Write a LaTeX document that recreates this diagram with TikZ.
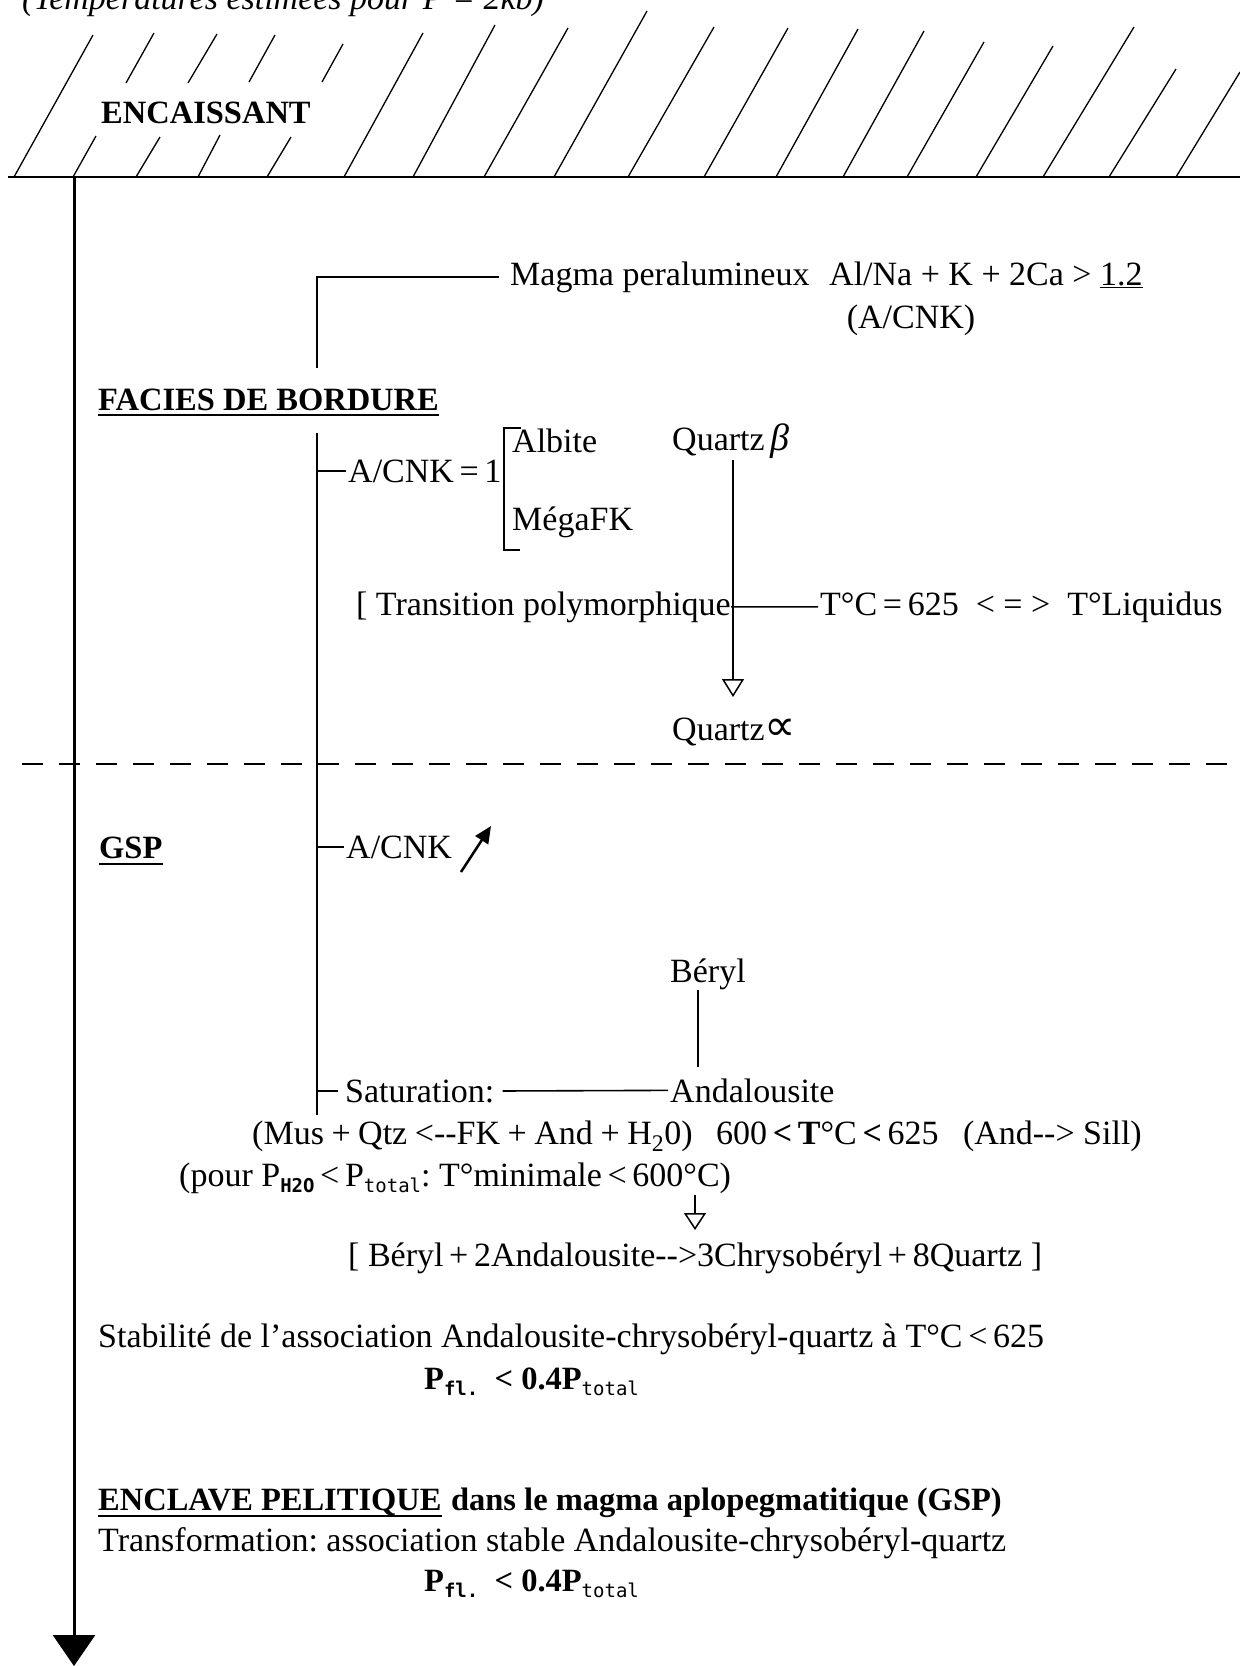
\documentclass[tikz,border=0pt]{standalone}
\usepackage{fontspec}
\setmainfont{Liberation Serif}
\newfontfamily\subsf{DejaVu Sans Mono}
\newfontfamily\symf{DejaVu Sans}
\usetikzlibrary{arrows.meta}
\newcommand\hy{\mbox{-}}
\newcommand\lowsub[1]{\raisebox{-6pt}{\fontsize{19}{19}\selectfont\subsf #1}}
\begin{document}
\begin{tikzpicture}[x=1pt,y=-1pt,
  txt/.style={inner sep=0pt, font=\fontsize{34}{41}\selectfont\frenchspacing},
  txtb/.style={inner sep=0pt, font=\fontsize{32.5}{41}\selectfont\bfseries\frenchspacing},
  ln/.style={line width=1.6pt},
  hatch/.style={line width=1.3pt},
  ul/.style={line width=2.4pt},
  openhead/.style={-{Triangle[open,width=22pt,length=18pt,line width=1.5pt]}}]
\fill[white] (0,0) rectangle (1240,1666);
\useasboundingbox (0,0) rectangle (1240,1666);

% header (cut at the top edge, as in the scan)
\begin{scope}
\clip (0,0) rectangle (1240,1666);
\node[txt, anchor=base west, font=\fontsize{34}{41}\selectfont\itshape] (hdr) at (22,9) {(Températures estimées pour P = 2kb)};
\end{scope}

% hatching of the country rock
\foreach \bx/\by/\tx/\ty in {14/177/93/35, 126/83/154/33, 188/83/217/34, 249/82/275/35, 322/82/343/44,
  73/177/96/136, 136/177/160/137, 198/177/220/135, 267/177/291/137,
  344/177/423/33, 413/177/495/25, 484/177/568/28, 554/177/647/11,
  628/177/714/27, 704/177/788/28, 776/177/858/29, 843/177/924/31, 907/177/984/42,
  976/177/1053/46, 1043/177/1134/27, 1109/177/1176/69, 1176/177/1240/72}
  \draw[hatch] (\bx,\by) -- (\tx,\ty);
\draw[line width=2.5pt] (8,177) -- (1240,177);
\node[txtb, anchor=base west] (enc) at (101,123) {ENCAISSANT};

% main time arrow
\coordinate (mtop) at (74,177);
\coordinate (mbot) at (74,1666);
\draw[line width=3pt, -{Triangle[width=42pt,length=31pt]}] (mtop) -- (mbot);

% dashed limit
\coordinate (dl) at (22,764);
\coordinate (dr) at (1240,764);
\draw[line width=2pt, dash pattern=on 21pt off 16pt] (dl) -- (dr);

% texts
\node[txt, anchor=base west] (magma) at (510,285) {Magma peralumineux};
\node[txt, anchor=base west] (ratio) at (829,285) {Al/Na\hspace{8.5pt}+\hspace{8.5pt}K\hspace{8.5pt}+\hspace{8.5pt}2Ca\hspace{8.5pt}>\hspace{8.5pt}\underline{1.2}};
\node[txt, anchor=base] (acnkp) at (911,328) {(A/CNK)};
\node[txtb, anchor=base west] (facies) at (98,410) {FACIES DE BORDURE};
\node[txt, anchor=base west] (acnk1) at (348,482) {A/CNK\,=\,1};
\node[txt, anchor=base west] (albite) at (512,452) {Albite};
\node[txt, anchor=base west] (mega) at (512,530) {MégaFK};
\node[txt, anchor=base west] (qb) at (672,450) {Quartz\,{\itshape\fontsize{38}{38}\selectfont β}};
\node[txt, anchor=base east] (trans) at (731,615) {[ Transition polymorphique};
\node[txt, anchor=base west] (tliq) at (820,615) {T°C\,=\,625 \ < = > \ T°Liquidus};
\node[txt, anchor=base west] (qa) at (672,740) {Quartz{\symf\fontsize{44}{44}\selectfont ∝}};
\node[txtb, anchor=base west] (gsp) at (99,858) {GSP};
\node[txt, anchor=base west] (acnk) at (346,858) {A/CNK};
\node[txt, anchor=base west] (beryl) at (670,982) {Béryl};
\node[txt, anchor=base west] (satur) at (345,1102) {Saturation:};
\node[txt, anchor=base west] (anda) at (670,1102) {Andalousite};
\node[txt, anchor=base west] (mus) at (252,1144) {(Mus\:+\:Qtz\:<\hy\hy FK\:+\:And\:+\:H\textsubscript{2}0)};
\node[txt, anchor=base west] (temp) at (716,1144) {600\,{\bfseries<}\,\textbf{T}°C\,{\bfseries<}\,625};
\node[txt, anchor=base east] (sill) at (1142,1144) {(And\hy\hy> Sill)};
\node[txt, anchor=base west] (pour) at (179,1186) {(pour P\lowsub{\bfseries H2O}\,<\,P\lowsub{total}: T°minimale\,<\,600°C)};
\node[txt, anchor=base west] (reac) at (348,1266) {[ Béryl\,+\,2Andalousite\hy\hy>3Chrysobéryl\,+\,8Quartz ]};
\node[txt, anchor=base west] (stab) at (98,1347) {Stabilité de l'association Andalousite-chrysobéryl-quartz à T°C\,<\,625};
\node[txtb, anchor=base west] (pfl1) at (424,1389) {P\lowsub{\bfseries fl.}\ \ < 0.4P\lowsub{\mdseries total}};
\node[txtb, anchor=base west] (encl) at (98,1510) {ENCLAVE PELITIQUE};
\node[txtb, anchor=base west] (dans) at ([xshift=9pt]encl.base east) {dans le magma aplopegmatitique (GSP)};
\node[txt, anchor=base west] (transf) at (98,1551) {Transformation: association stable Andalousite-chrysobéryl-quartz};
\node[txtb, anchor=base west] (pfl2) at (424,1591) {P\lowsub{\bfseries fl.}\ \ < 0.4P\lowsub{\mdseries total}};

% underlines
\draw[ul] ([yshift=-5pt]facies.base west) -- ([yshift=-5pt]facies.base east);
\draw[ul] ([yshift=-6pt]gsp.base west) -- ([yshift=-6pt]gsp.base east);
\draw[ul] ([yshift=-6pt]encl.base west) -- ([yshift=-6pt]encl.base east);

% bracket line of the granite facies
\coordinate (vg1) at (317,368);
\coordinate (vg2) at (317,433);
\coordinate (vbot) at (317,1115);
\draw[ln] ([xshift=-11pt]magma.west) -| (vg1);
\draw[ln] (vg2) -- (vbot);
\draw[ln] (acnk1.west -| vg2) -- ([xshift=-2pt]acnk1.west);
\draw[ln] (acnk.west -| vg2) -- ([xshift=-2pt]acnk.west);
\draw[ln] (satur.west -| vg2) -- ([xshift=-7pt]satur.west);

% square bracket Albite / MegaFK
\coordinate (brt) at (504,428);
\coordinate (brb) at (504,550);
\draw[ln] ([xshift=17pt]brt) -- (brt) -- (brb) -- ([xshift=16pt]brb);

% quartz transition
\coordinate (qtop) at (733,460);
\coordinate (qtip) at (733,697);
\draw[ln, openhead] (qtop) -- (qtip);
\draw[ln] (trans.east) -- ([xshift=-2pt]tliq.west);

% A/CNK increase arrow
\coordinate (up1) at (461,872);
\coordinate (up2) at (491,826);
\draw[line width=2.5pt, -{Triangle[width=15pt,length=17pt]}] (up1) -- (up2);

% beryl - andalousite
\coordinate (bl1) at (698,990);
\coordinate (bl2) at (698,1067);
\draw[ln] (bl1) -- (bl2);
\draw[ln] ([xshift=8pt]satur.east) -- ([xshift=-2pt]anda.west);

% reaction arrow
\coordinate (sa1) at (695,1195);
\coordinate (sa2) at (695,1230);
\draw[ln, -{Triangle[open,width=22pt,length=17pt,line width=1.5pt]}] (sa1) -- (sa2);
\end{tikzpicture}
\end{document}
